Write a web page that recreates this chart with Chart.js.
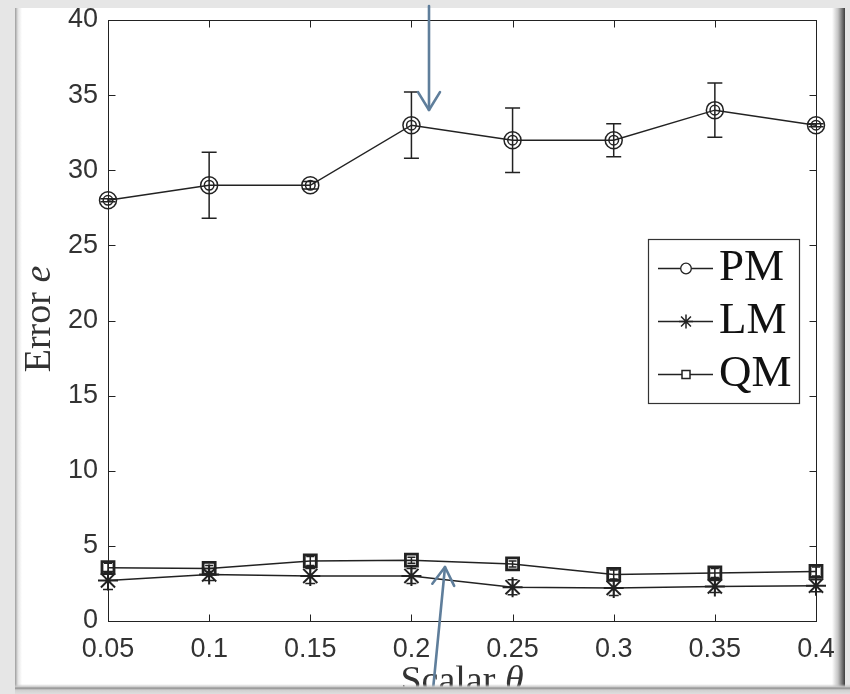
<!DOCTYPE html>
<html><head><meta charset="utf-8">
<script src="https://cdn.jsdelivr.net/npm/chart.js@4"></script>
<style>
html,body{margin:0;padding:0;width:850px;height:694px;overflow:hidden;background:#e6e6e6;}
#panel{position:absolute;left:15px;top:8px;width:830px;height:686px;background:linear-gradient(to right,#9c9c9c 0px,#e4e4e4 3px,#fff 7px,#fff 817px,#c4c4c4 823px,#3c3c3c 830px);}
#c{position:absolute;left:0;top:0;}
#bottom{position:absolute;left:15px;top:684px;width:835px;height:10px;background:linear-gradient(to bottom,rgba(255,255,255,0) 0,#c8c8c8 3px,#8c8c8c 4px,#cfcfcf 6px,#dedede 10px);}
</style>
</head><body>
<div id="panel"></div>
<canvas id="c" width="850" height="694"></canvas>
<div id="bottom"></div>
<script>
const xLabels = ['0.05','0.1','0.15','0.2','0.25','0.3','0.35','0.4'];
const yTickValues = [0,5,10,15,20,25,30,35,40];
const pmValues = [28,29,29,33,32,32,34,33];
const pmErr    = [0.1,2.2,0.25,2.2,2.15,1.1,1.8,0.1];
const lmValues = [2.7,3.1,3.0,3.0,2.25,2.2,2.3,2.35];
const lmErr    = [0.6,0.4,0.5,0.5,0.5,0.5,0.4,0.4];
const qmValues = [3.55,3.5,4.0,4.05,3.8,3.1,3.2,3.3];
const qmErr    = [0.3,0.2,0.3,0.2,0.2,0.3,0.3,0.3];
const seriesNames = ['PM','LM','QM'];

const INK = '#222';

function drawStar(ctx, x, y, r){
  ctx.beginPath();
  for(let k=0;k<4;k++){
    const a = k*Math.PI/4;
    ctx.moveTo(x - r*Math.sin(a), y - r*Math.cos(a));
    ctx.lineTo(x + r*Math.sin(a), y + r*Math.cos(a));
  }
  ctx.stroke();
}
function arrow(ctx, x0, y0, x1, y1){
  ctx.beginPath(); ctx.moveTo(x0,y0); ctx.lineTo(x1,y1); ctx.stroke();
  const ang = Math.atan2(y1-y0, x1-x0), L = 21, w = 0.55;
  ctx.beginPath();
  ctx.moveTo(x1 - L*Math.cos(ang-w), y1 - L*Math.sin(ang-w));
  ctx.lineTo(x1, y1);
  ctx.lineTo(x1 - L*Math.cos(ang+w), y1 - L*Math.sin(ang+w));
  ctx.stroke();
}

const decor = {
  id: 'decor',
  afterDatasetsDraw(chart){
    const ctx = chart.ctx, xs = chart.scales.x, ys = chart.scales.y;
    ctx.save();
    ctx.strokeStyle = INK; ctx.lineWidth = 1.5;
    const drawErr = (vals, errs, cap) => {
      vals.forEach((v,i)=>{
        const px = xs.getPixelForValue(i);
        const t = ys.getPixelForValue(v+errs[i]), b = ys.getPixelForValue(v-errs[i]);
        ctx.beginPath();
        ctx.moveTo(px,t); ctx.lineTo(px,b);
        ctx.moveTo(px-cap,t); ctx.lineTo(px+cap,t);
        ctx.moveTo(px-cap,b); ctx.lineTo(px+cap,b);
        ctx.stroke();
      });
    };
    drawErr(pmValues, pmErr, 7.5);
    drawErr(lmValues, lmErr, 5);
    drawErr(qmValues, qmErr, 4);
    ctx.lineWidth = 1.5;
    chart.getDatasetMeta(0).data.forEach(p=>{
      ctx.beginPath(); ctx.arc(p.x, p.y, 4.8, 0, Math.PI*2); ctx.stroke();
    });
    ctx.restore();
  },
  afterDraw(chart){
    const ctx = chart.ctx, xs = chart.scales.x, ys = chart.scales.y, a = chart.chartArea;
    ctx.save();
    ctx.strokeStyle = INK; ctx.lineWidth = 1;
    const L = Math.round(a.left)+0.5, R = Math.round(a.right)+0.5, T = Math.round(a.top)+0.5, B = Math.round(a.bottom)+0.5;
    ctx.strokeRect(L, T, R-L, B-T);
    ctx.beginPath();
    yTickValues.forEach(v=>{
      const py = Math.round(ys.getPixelForValue(v))+0.5;
      ctx.moveTo(L,py); ctx.lineTo(L+7,py);
      ctx.moveTo(R,py); ctx.lineTo(R-7,py);
    });
    xLabels.forEach((_,i)=>{
      const px = Math.round(xs.getPixelForValue(i))+0.5;
      ctx.moveTo(px,B); ctx.lineTo(px,B-7);
      ctx.moveTo(px,T); ctx.lineTo(px,T+7);
    });
    ctx.stroke();

    ctx.fillStyle = '#fff';
    ctx.fillRect(648, 239, 151, 164);
    ctx.strokeStyle = '#333'; ctx.lineWidth = 1.2;
    ctx.strokeRect(648.5, 239.5, 151, 164);
    const rows = [268, 321, 374];
    ctx.font = '45px "Liberation Serif", "DejaVu Serif", serif';
    ctx.textBaseline = 'alphabetic'; ctx.textAlign = 'left';
    rows.forEach((ry,k)=>{
      ctx.strokeStyle = INK; ctx.lineWidth = 1.3;
      ctx.beginPath(); ctx.moveTo(658, ry+0.5); ctx.lineTo(713, ry+0.5); ctx.stroke();
      if(k===0){ ctx.fillStyle='#fff'; ctx.beginPath(); ctx.arc(686, ry+0.5, 5.3, 0, Math.PI*2); ctx.fill(); ctx.stroke(); }
      if(k===1){ ctx.lineWidth = 1.5; drawStar(ctx, 686, ry+0.5, 7); }
      if(k===2){ ctx.lineWidth = 1.5; ctx.fillStyle='#fff'; ctx.fillRect(682,ry-3.5,8,8); ctx.strokeRect(682,ry-3.5,8,8); }
      ctx.fillStyle = '#111';
      ctx.fillText(seriesNames[k], 719, ry+12);
    });

    ctx.fillStyle = '#333';
    const serif = '"Liberation Serif", "DejaVu Serif", serif';
    const mixed = (plain, ital, size) => {
      ctx.font = size+'px '+serif; const w1 = ctx.measureText(plain).width;
      ctx.font = 'italic '+size+'px '+serif; const w2 = ctx.measureText(ital).width;
      const s = -(w1+w2)/2;
      ctx.font = size+'px '+serif; ctx.fillText(plain, s, 0);
      ctx.font = 'italic '+size+'px '+serif; ctx.fillText(ital, s+w1, 0);
    };
    ctx.textAlign = 'left'; ctx.textBaseline = 'alphabetic';
    ctx.save(); ctx.translate(50, 319); ctx.rotate(-Math.PI/2); mixed('Error ', 'e', 38); ctx.restore();
    ctx.save(); ctx.translate(462, 692); mixed('Scalar ', 'θ', 38); ctx.restore();

    ctx.strokeStyle = '#5f7e9b'; ctx.lineWidth = 2.6; ctx.lineCap = 'round'; ctx.lineJoin = 'round';
    arrow(ctx, 429, 6, 429, 110);
    arrow(ctx, 432, 700, 445, 567);
    ctx.restore();
  }
};

const common = { borderColor: INK, borderWidth: 1.5, pointBorderColor: INK, pointBackgroundColor: 'rgba(0,0,0,0)', tension: 0, clip: false, fill: false };

new Chart(document.getElementById('c'), {
  type: 'line',
  data: {
    labels: xLabels,
    datasets: [
      Object.assign({ label: seriesNames[0], data: pmValues, pointStyle: 'circle', pointRadius: 8.5, pointBorderWidth: 1.5 }, common),
      Object.assign({ label: seriesNames[1], data: lmValues, pointStyle: 'star', pointRadius: 10, pointBorderWidth: 2 }, common),
      Object.assign({ label: seriesNames[2], data: qmValues, pointStyle: 'rect', pointRadius: 8.5, pointBorderWidth: 2.8 }, common)
    ]
  },
  options: {
    responsive: false, animation: false, devicePixelRatio: 1,
    events: [],
    layout: { padding: { top: 20, right: 34, left: 0, bottom: 0 } },
    plugins: { legend: { display: false }, tooltip: { enabled: false } },
    scales: {
      x: {
        type: 'category', offset: false,
        grid: { display: false, drawTicks: false }, border: { display: false },
        ticks: { autoSkip: false, maxRotation: 0, padding: 12, color: '#333', font: { family: '"Liberation Sans", Arial, sans-serif', size: 27 } },
        afterFit(s){ s.height = 73; s.paddingLeft = 0; s.paddingRight = 0; s.paddingTop = 0; s.paddingBottom = 0; }
      },
      y: {
        type: 'linear', min: 0, max: 40,
        grid: { display: false, drawTicks: false }, border: { display: false },
        ticks: { stepSize: 5, padding: 10, color: '#333', font: { family: '"Liberation Sans", Arial, sans-serif', size: 27 },
                 callback: (v) => yTickValues.includes(v) ? String(v) : '' },
        afterFit(s){ s.width = 108; s.paddingLeft = 0; s.paddingRight = 0; s.paddingTop = 0; s.paddingBottom = 0; }
      }
    }
  },
  plugins: [decor]
});
</script>
</body></html>
